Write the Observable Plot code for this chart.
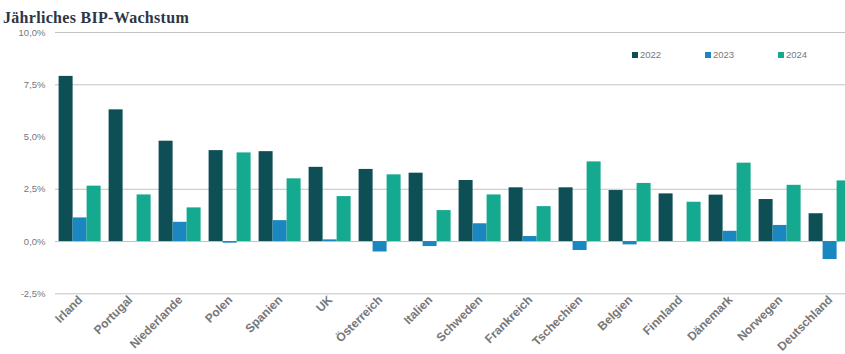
<!DOCTYPE html>
<html><head><meta charset="utf-8">
<script src="https://cdn.jsdelivr.net/npm/d3@7"></script>
<script src="https://cdn.jsdelivr.net/npm/@observablehq/plot@0.6"></script>
<style>
html,body{margin:0;padding:0;background:#fff;overflow:hidden;width:845px;height:354px}
#title{height:26px;box-sizing:border-box;padding:10px 0 0 3px;font:bold 16px/16px "Liberation Serif",serif;color:#2b3646;white-space:nowrap;letter-spacing:0.3px}
#legend{position:absolute;top:38px;left:632px;width:240px}
#legend > div{flex-wrap:nowrap !important;white-space:nowrap}
.lg-swatch{margin-right:0 !important;width:73px;font:9.5px "Liberation Sans",Arial,sans-serif;color:#777}
.lg-swatch svg{margin-right:2px}
</style></head>
<body>
<div id="title">Jährliches BIP-Wachstum</div>
<div id="chart"></div>
<div id="legend"></div>
<script>
const countries = ["Irland","Portugal","Niederlande","Polen","Spanien","UK","Österreich","Italien","Schweden","Frankreich","Tschechien","Belgien","Finnland","Dänemark","Norwegen","Deutschland"];
const years = ["2022","2023","2024"];
const v2022 = [7.9,6.3,4.8,4.35,4.3,3.55,3.45,3.27,2.92,2.57,2.57,2.44,2.28,2.22,2.01,1.33];
const v2023 = [1.13,0,0.92,-0.08,1.0,0.08,-0.5,-0.24,0.85,0.24,-0.43,-0.16,0,0.49,0.77,-0.86];
const v2024 = [2.65,2.23,1.61,4.24,3.0,2.15,3.19,1.48,2.23,1.67,3.81,2.78,1.88,3.75,2.69,2.9];
const yTicks = [10,7.5,5,2.5,0,-2.5];
const gridValues = [10,7.5,2.5,0,-2.5];
const colors = ["#0e4f55","#1b87c0","#15a98f"];

const series = [v2022, v2023, v2024];
const data = [];
countries.forEach((c, i) => years.forEach((yr, j) => data.push({country: c, year: yr, value: series[j][i]})));

const fmt = d => d.toFixed(1).replace(".", ",") + "%";

const chart = Plot.plot({
  width: 845,
  height: 328,
  marginTop: 6,
  marginBottom: 60.7,
  marginLeft: 53.4,
  marginRight: -11.6,
  style: {fontFamily: "Liberation Sans, Arial, sans-serif", background: "transparent", overflow: "visible"},
  fx: {domain: countries, padding: 0, label: null},
  x: {domain: years, axis: null, paddingInner: 0, paddingOuter: 0.25},
  y: {domain: [-2.5, 10], label: null},
  color: {domain: years, range: colors},
  marks: [
    Plot.ruleY(gridValues, {stroke: "#c4c4c4", strokeWidth: 1}),
    Plot.barY(data, {fx: "country", x: "year", y: "value", fill: "year"}),
    Plot.axisY({ticks: yTicks, tickFormat: fmt, tickSize: 0, tickPadding: 10, fontSize: 9.5, fill: "#777", label: null}),
    Plot.axisFx({anchor: "bottom", tickRotate: -45, tickSize: 0, tickPadding: 4, fontSize: 12, fontWeight: "bold", fill: "#777", label: null})
  ]
});
document.getElementById("chart").appendChild(chart);

const lg = Plot.legend({color: {domain: years, range: colors}, legend: "swatches", swatchSize: 6, className: "lg"});
document.getElementById("legend").appendChild(lg);
</script>
</body></html>
